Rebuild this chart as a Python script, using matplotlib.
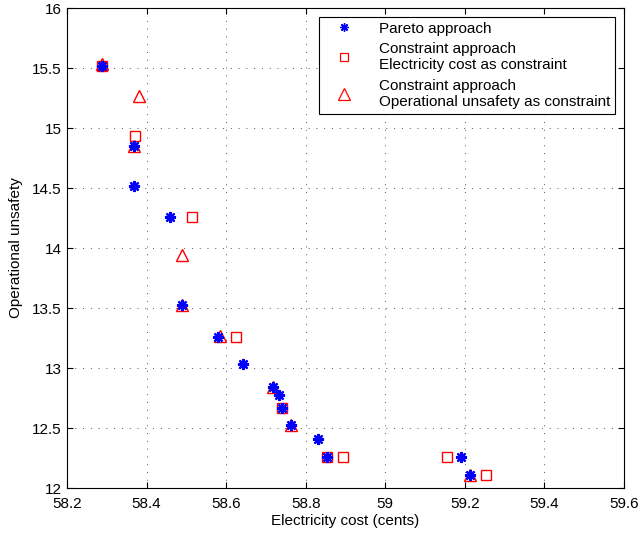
import matplotlib

matplotlib.use("Agg")
import matplotlib.pyplot as plt

plt.rcParams["font.family"] = ["Liberation Sans", "DejaVu Sans"]

# Pareto approach
pareto_cost = [58.288, 58.369, 58.369, 58.459, 58.489, 58.579, 58.643,
               58.717, 58.732, 58.741, 58.763, 58.830, 58.854, 59.190, 59.213]
pareto_unsafety = [15.52, 14.85, 14.517, 14.258, 13.525, 13.26, 13.036,
                   12.844, 12.775, 12.669, 12.525, 12.408, 12.26, 12.26, 12.111]

# Constraint approach, electricity cost as constraint
cost_con_cost = [58.288, 58.370, 58.515, 58.626, 58.741, 58.854, 58.893,
                 59.154, 59.253]
cost_con_unsafety = [15.52, 14.933, 14.258, 13.258, 12.669, 12.26, 12.258,
                     12.258, 12.11]

# Constraint approach, operational unsafety as constraint
safe_con_cost = [58.288, 58.381, 58.369, 58.490, 58.489, 58.585, 58.717,
                 58.763, 59.213]
safe_con_unsafety = [15.53, 15.267, 14.85, 13.942, 13.525, 13.267, 12.844,
                     12.525, 12.111]

fig = plt.figure(figsize=(6.4, 5.37), dpi=100)
ax = fig.add_axes([0.1047, 0.0912, 0.8703, 0.8938])

ax.plot(pareto_cost, pareto_unsafety, linestyle="none", marker=(8, 2, 0),
        color="blue", markersize=8, markeredgewidth=1.6, zorder=4,
        label="Pareto approach")
ax.plot(cost_con_cost, cost_con_unsafety, linestyle="none", marker="s",
        markerfacecolor="none", markeredgecolor="red", markersize=7,
        markeredgewidth=1.0, zorder=3,
        label="Constraint approach\nElectricity cost as constraint")
ax.plot(safe_con_cost, safe_con_unsafety, linestyle="none", marker="^",
        markerfacecolor="none", markeredgecolor="red", markersize=9,
        markeredgewidth=1.0, zorder=3,
        label="Constraint approach\nOperational unsafety as constraint")

ax.set_xlim(58.2, 59.6)
ax.set_ylim(12, 16)
ax.set_xticks([58.2, 58.4, 58.6, 58.8, 59, 59.2, 59.4, 59.6])
ax.set_xticklabels(["58.2", "58.4", "58.6", "58.8", "59", "59.2", "59.4", "59.6"])
ax.set_yticks([12, 12.5, 13, 13.5, 14, 14.5, 15, 15.5, 16])
ax.set_yticklabels(["12", "12.5", "13", "13.5", "14", "14.5", "15", "15.5", "16"])
ax.tick_params(direction="in", top=True, right=True, labelsize=11, length=4)
ax.tick_params(axis="x", pad=6.5)
ax.tick_params(axis="y", pad=4)
ax.grid(True, linestyle=(0, (1, 7)), color="#555555", linewidth=0.7)
for spine in ax.spines.values():
    spine.set_linewidth(0.8)

ax.set_xlabel("Electricity cost (cents)", fontsize=11, labelpad=2)
ax.set_ylabel("Operational unsafety", fontsize=11, labelpad=6)

leg = ax.legend(loc="upper right", fontsize=11, fancybox=False,
                edgecolor="black", framealpha=1, borderaxespad=0.6,
                handletextpad=1.0, labelspacing=0.42, handlelength=2.6,
                borderpad=0.3)
leg.get_frame().set_linewidth(0.8)
for handle, size, width in zip(leg.legend_handles, [6, 6, 8], [1.0, 0.9, 0.9]):
    handle.set_markersize(size)
    handle.set_markeredgewidth(width)

fig.savefig("out.png", dpi=100)
